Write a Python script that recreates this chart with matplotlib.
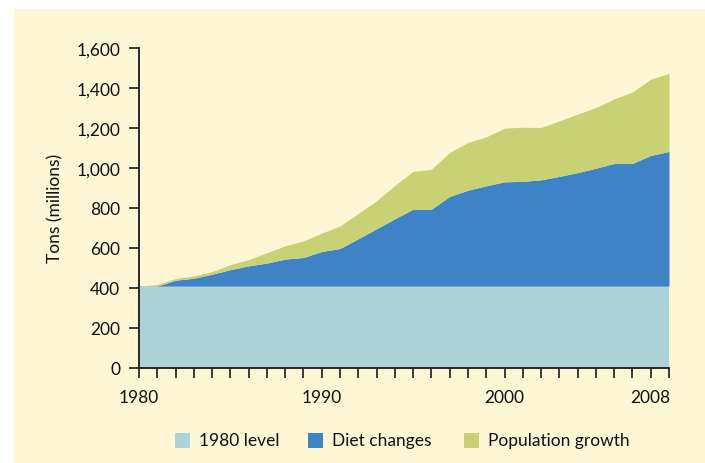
import matplotlib
matplotlib.use('Agg')
import matplotlib.pyplot as plt
from matplotlib.patches import Rectangle
import numpy as np

# ── Data ──────────────────────────────────────────────────────────────────────
years = list(range(1980, 2010))
level_1980 = 408
diet_top = [408, 408, 437, 447, 467, 490, 509, 523, 543, 551,
            581, 596, 645, 695, 745, 793, 793, 857, 888, 910,
            930, 932, 940, 957, 976, 998, 1022, 1022, 1062, 1082]
total_top = [408, 416, 446, 458, 480, 515, 540, 575, 610, 634,
             673, 709, 772, 835, 912, 982, 993, 1077, 1127, 1155,
             1199, 1203, 1202, 1235, 1269, 1302, 1345, 1380, 1444, 1473]
xtick_labels = {1980: '1980', 1990: '1990', 2000: '2000', 2008: '2008'}
yticks = [0, 200, 400, 600, 800, 1000, 1200, 1400, 1600]
legend_labels = ['1980 level', 'Diet changes', 'Population growth']

# ── Style ─────────────────────────────────────────────────────────────────────
CREAM = '#FEF6D5'
C_BASE = '#ADD3D8'
C_DIET = '#3D83C5'
C_POP = '#C8D274'
colors = [C_BASE, C_DIET, C_POP]
TXT = '#111111'
plt.rcParams['font.family'] = ['Lato', 'DejaVu Sans']

W, H = 705, 464
fig = plt.figure(figsize=(W / 100, H / 100), dpi=100, facecolor='white')
fig.patches.append(Rectangle((14 / W, 0), 1 - 14 / W, (H - 10) / H,
                             transform=fig.transFigure, facecolor=CREAM,
                             edgecolor='none', zorder=-10))

ax = fig.add_axes([139 / W, 1 - 368.5 / H, (669 - 139) / W, (368.5 - 49) / H])
ax.set_facecolor('none')

yrs = np.array(years)
base = np.full(len(yrs), level_1980)
ax.fill_between(yrs, 0, base, color=C_BASE, lw=0)
ax.fill_between(yrs, base, diet_top, color=C_DIET, lw=0)
ax.fill_between(yrs, diet_top, total_top, color=C_POP, lw=0)

ax.set_xlim(1980, 2009)
ax.set_ylim(0, 1600)
ax.set_xticks(years)
ax.set_xticklabels([xtick_labels.get(y, '') for y in years])
ax.set_yticks(yticks)
ax.set_yticklabels([f'{v:,}' for v in yticks])
ax.tick_params(axis='both', direction='out', length=7.5, width=1.2,
               color='#1a1a1a', labelsize=12.5, labelcolor=TXT)
ax.tick_params(axis='x', pad=8)
ax.tick_params(axis='y', pad=6)
for s in ['top', 'right']:
    ax.spines[s].set_visible(False)
for s in ['left', 'bottom']:
    ax.spines[s].set_color('#1a1a1a')
    ax.spines[s].set_linewidth(1.3)

ax.set_ylabel('Tons (millions)', fontsize=12.5, color=TXT, labelpad=9)

# ── Legend (manual, bottom) ───────────────────────────────────────────────────
sq_x = [175, 308, 464]
for x0, col, lab in zip(sq_x, colors, legend_labels):
    fig.patches.append(Rectangle((x0 / W, 1 - 449 / H), 15 / W, 15 / H,
                                 transform=fig.transFigure, facecolor=col,
                                 edgecolor='none'))
    fig.text((x0 + 24) / W, 1 - 441.5 / H, lab, fontsize=12.5,
             color=TXT, ha='left', va='center')

fig.savefig('out.png', dpi=100, facecolor=fig.get_facecolor())
